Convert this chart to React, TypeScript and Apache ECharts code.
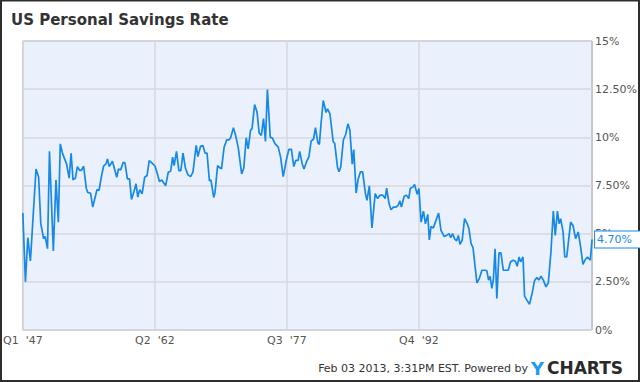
import React, { useEffect, useRef } from "react";
import * as echarts from "echarts";

// Position in quarters since Q1 1947 (0 = Q1 '47, 263 = Q4 '12)
const quarters = [
  0, 1.2, 2.3, 3.5, 6.1, 7.3, 8.3, 9.6, 10.3, 11.4, 12.3, 14.1, 15.3, 16.4, 17.3, 18.4, 20.2, 21.4, 22.3, 23.2,
  24.3, 25.2, 26.3, 27.0, 28.1, 29.3, 30.0, 31.3, 32.3, 34.3, 35.2, 36.4, 37.3, 38.4, 39.1, 39.9, 41.4, 43.4, 44.2, 45.2,
  46.4, 47.2, 48.3, 49.3, 50.2, 51.3, 52.3, 53.1, 54.0, 55.1, 56.3, 57.4, 58.4, 59.6, 61.1, 62.2, 63.1, 64.2, 66.0, 67.2,
  68.3, 69.2, 69.9, 71.0, 72.1, 73.0, 74.0, 75.1, 76.3, 77.5, 78.6, 80.1, 80.9, 82.1, 83.2, 84.2, 85.1, 86.2, 86.9, 88.2,
  88.8, 90.0, 90.7, 91.8, 93.0, 94.2, 95.3, 96.0, 97.3, 98.3, 99.5, 101.1, 102.1, 103.2, 104.1, 105.2, 105.9, 107.1, 108.2, 109.2,
  110.2, 111.2, 112.1, 113.0, 114.3, 115.3, 116.5, 118.0, 119.1, 120.3, 121.8, 122.9, 124.1, 125.2, 126.1, 127.2, 127.9, 129.1, 129.9, 131.0,
  132.2, 133.2, 134.3, 135.2, 136.3, 137.0, 137.8, 138.8, 140.1, 140.8, 141.9, 143.4, 144.1, 145.4, 146.1, 146.9, 148.1, 149.2, 150.2, 151.1,
  152.2, 152.9, 154.0, 154.9, 156.0, 157.0, 158.3, 159.0, 160.1, 161.3, 162.8, 163.9, 165.1, 166.3, 167.4, 168.1, 169.2, 170.1, 171.2, 172.4,
  173.4, 174.2, 174.9, 176.2, 177.2, 178.3, 179.0, 180.3, 181.0, 182.2, 183.0, 184.0, 185.1, 186.0, 187.1, 187.8, 188.6, 189.7, 190.9, 192.1,
  193.2, 194.7, 195.7, 196.9, 197.7, 198.5, 199.5, 200.4, 201.2, 202.0, 203.0, 204.1, 205.3, 206.1, 207.1, 208.0, 208.8, 209.8, 210.9, 212.1,
  213.6, 214.4, 215.2, 215.9, 216.7, 217.4, 218.2, 219.0, 220.0, 220.9, 222.0, 223.2, 224.3, 225.3, 226.5, 227.6, 228.4, 229.3, 230.0, 231.1,
  231.8, 232.9, 234.1, 235.3, 236.4, 237.5, 238.4, 239.4, 240.5, 241.7, 242.8, 244.0, 245.1, 246.0, 247.0, 247.8, 248.5, 249.6, 250.4, 251.3,
  253.1, 254.2, 255.4, 256.6, 257.6, 258.8, 259.9, 260.9, 262.2, 263.0,
];

// Personal savings rate, %
const rates = [
  6.07, 2.5, 4.79, 3.59, 8.36, 7.93, 5.52, 4.74, 4.86, 4.22, 9.28, 4.1, 7.79, 5.6, 9.66, 9.14, 8.62, 7.88, 9.17, 7.79,
  7.88, 8.48, 8.28, 8.28, 8.5, 7.36, 7.14, 7.1, 6.38, 7.29, 7.24, 8.02, 8.5, 8.62, 8.88, 8.48, 8.76, 7.93, 8.36, 8.31,
  8.71, 8.67, 7.84, 7.84, 6.78, 7.16, 7.59, 6.9, 7.28, 7.07, 7.93, 8.02, 8.79, 8.67, 8.5, 8.1, 7.71, 7.79, 7.49, 8.19,
  8.24, 8.97, 8.53, 9.27, 8.27, 8.27, 9.18, 8.41, 8.05, 7.96, 8.19, 9.58, 9.0, 9.53, 9.58, 9.18, 9.18, 7.75, 7.79, 6.88,
  7.14, 8.53, 8.45, 8.36, 9.49, 9.87, 9.87, 9.98, 10.5, 10.1, 9.49, 8.1, 8.41, 9.98, 9.4, 10.36, 10.45, 11.7, 11.32, 10.22,
  10.1, 10.97, 9.79, 12.48, 10.01, 9.96, 9.67, 9.49, 8.97, 7.96, 8.85, 9.37, 9.37, 8.48, 8.8, 8.8, 9.27, 8.62, 8.36, 8.71,
  9.0, 9.81, 9.9, 10.5, 9.72, 9.63, 10.73, 11.91, 11.29, 11.48, 11.22, 9.77, 9.69, 8.43, 8.21, 8.47, 9.86, 10.16, 10.7, 10.38,
  8.61, 9.37, 7.11, 7.81, 8.21, 8.21, 7.08, 6.73, 7.48, 5.3, 7.08, 6.82, 7.0, 7.0, 6.82, 7.37, 6.56, 6.24, 6.38, 6.38,
  6.47, 6.7, 6.38, 6.94, 7.0, 6.82, 7.34, 7.43, 7.55, 7.04, 7.34, 5.6, 6.17, 5.51, 6.0, 4.68, 5.37, 5.3, 5.69, 6.07,
  5.17, 4.85, 4.9, 5.0, 4.79, 5.0, 4.74, 4.62, 4.91, 4.45, 4.66, 5.78, 5.52, 5.26, 4.48, 4.28, 3.45, 2.45, 2.67, 3.1,
  3.1, 3.07, 2.59, 2.79, 2.16, 2.62, 4.22, 1.64, 4.0, 4.0, 3.1, 3.1, 3.1, 3.53, 3.62, 3.57, 3.31, 3.79, 3.53, 3.79,
  1.76, 1.55, 1.33, 1.9, 2.55, 2.72, 2.59, 2.79, 2.59, 2.24, 2.45, 4.05, 6.17, 4.91, 6.17, 5.52, 5.78, 5.09, 3.79, 3.79,
  5.6, 5.43, 4.74, 5.09, 4.4, 3.41, 3.66, 3.79, 3.62, 4.7,
];

const xTickValues = [0, 61, 122, 183];
const xTickLabels = ["Q1  '47", "Q2  '62", "Q3  '77", "Q4  '92"];
const lastLabel = "4.70%";

const title = "US Personal Savings Rate";
const footer = "Feb 03 2013, 3:31PM EST. Powered by";

const FONT = "DejaVu Sans";
const LINE = "#1588e8";

export default function App() {
  const ref = useRef<HTMLDivElement>(null);
  useEffect(() => {
    if (!ref.current) return;
    const chart = echarts.init(ref.current, undefined, { renderer: "svg" });
    const data = quarters.map((q, i) => [q, rates[i]]);
    chart.setOption({
      animation: false,
      backgroundColor: "#ffffff",
      grid: {
        left: 19,
        right: 43,
        top: 41,
        bottom: 52,
        show: true,
        backgroundColor: "#eaf1fc",
        borderColor: "#9a9a9a",
        borderWidth: 1,
      },
      xAxis: {
        type: "value",
        min: 0,
        max: 263,
        axisLine: { show: false },
        axisTick: { show: false, customValues: xTickValues },
        splitLine: { show: true, lineStyle: { color: "#d6d9de", width: 1.5 } },
        axisLabel: {
          customValues: xTickValues,
          formatter: (v: number) => {
            const i = xTickValues.indexOf(v);
            return i >= 0 ? xTickLabels[i] : "";
          },
          color: "#555",
          fontFamily: FONT,
          fontSize: 11,
          margin: 5,
        },
      },
      yAxis: {
        type: "value",
        position: "right",
        min: 0,
        max: 15,
        interval: 2.5,
        axisLine: { show: false },
        axisTick: { show: false },
        splitLine: { show: true, lineStyle: { color: "#d6d9de", width: 1.5 } },
        axisLabel: {
          formatter: (v: number) => (Number.isInteger(v) ? `${v}%` : `${v.toFixed(2)}%`),
          color: "#555",
          fontFamily: FONT,
          fontSize: 11,
          margin: 3,
        },
      },
      series: [
        {
          type: "line",
          data,
          symbol: "none",
          lineStyle: { color: LINE, width: 1.7 },
          endLabel: {
            show: true,
            formatter: () => lastLabel,
            color: LINE,
            fontFamily: FONT,
            fontSize: 11,
            backgroundColor: "#ffffff",
            borderColor: LINE,
            borderWidth: 1,
            padding: [3, 12, 2, 2],
            distance: 3,
          },
        },
      ],
      graphic: [
        {
          type: "rect",
          shape: { x: 1, y: 0.5, width: 638, height: 380.5 },
          style: { fill: "none", stroke: "#2e2e2e", lineWidth: 2 },
          silent: true,
        },
        {
          type: "text",
          x: 11,
          y: 20,
          style: {
            text: title,
            fill: "#333",
            font: `bold 15px "${FONT}"`,
            verticalAlign: "middle",
          },
        },
        {
          type: "text",
          x: 528,
          y: 368,
          style: {
            text: footer,
            fill: "#333",
            font: `11px "${FONT}"`,
            align: "right",
            verticalAlign: "middle",
          },
        },
        {
          type: "text",
          x: 531,
          y: 368,
          style: {
            text: "Y",
            fill: "#1b9af7",
            font: `900 18px "${FONT}"`,
            verticalAlign: "middle",
          },
        },
        {
          type: "text",
          x: 547,
          y: 368,
          style: {
            text: "CHARTS",
            fill: "#2a2a2a",
            font: `900 17px "${FONT}"`,
            verticalAlign: "middle",
          },
        },
      ],
    });
    return () => chart.dispose();
  }, []);
  return (
    <div
      ref={ref}
      style={{ position: "fixed", left: 0, top: 0, width: 640, height: 382 }}
    />
  );
}
